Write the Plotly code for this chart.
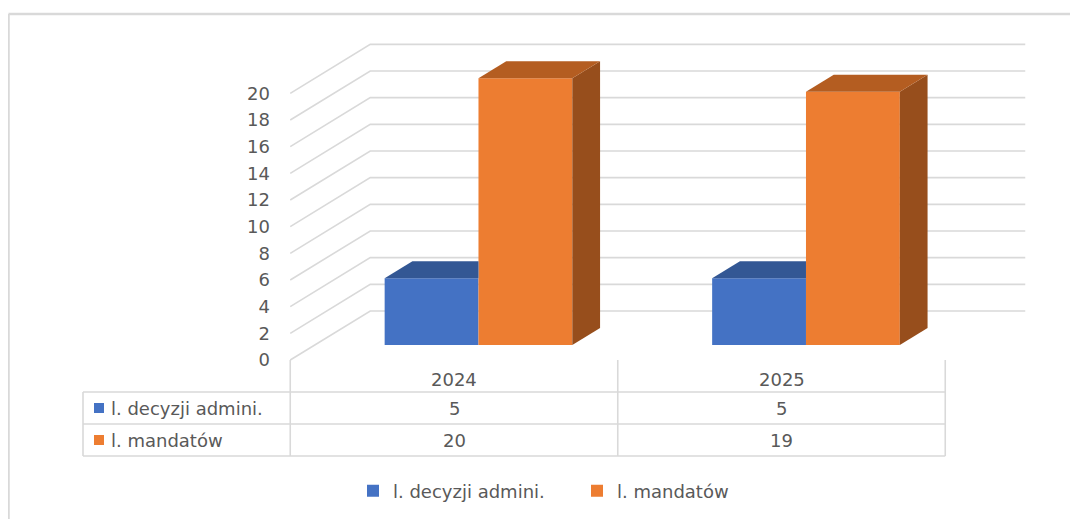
import plotly.graph_objects as go

# ---- data ----
categories = ["2024", "2025"]
series_names = ["l. decyzji admini.", "l. mandatów"]
decyzje = [5, 5]
mandaty = [20, 19]
y_ticks = list(range(0, 21, 2))

# ---- styling / projection constants ----
FONT = dict(family="DejaVu Sans", size=18, color="#595959")
GRID = "#D9D9D9"
BLUE, BLUE_TOP = "#4472C4", "#335794"
ORANGE, ORANGE_TOP, ORANGE_SIDE = "#ED7D31", "#B45D21", "#974E1C"

OFF = 8                          # page body margin
W, H = 1078 - OFF, 519 - OFF
PX_X0, PX_PER_CAT = 454.0 - OFF, 327.5     # pixel of category 0 / pixels per category
PX_Y0, PX_PER_UNIT = 360.0 - OFF, 13.333   # pixel of value 0 (front plane) / pixels per unit
X_RANGE = [(0 - PX_X0) / PX_PER_CAT, (W - PX_X0) / PX_PER_CAT]
Y_RANGE = [(PX_Y0 - H) / PX_PER_UNIT, (PX_Y0 - 0) / PX_PER_UNIT]

DEPTH_DX = 80 / PX_PER_CAT     # x shift for full depth
DEPTH_DY = 49 / PX_PER_UNIT    # y shift for full depth
BAR_D0, BAR_DEPTH = 0.306, 0.347
BW = 0.2865
SX, SY = BAR_D0 * DEPTH_DX, BAR_D0 * DEPTH_DY
DDX, DDY = BAR_DEPTH * DEPTH_DX, BAR_DEPTH * DEPTH_DY
X_LEFT, X_RIGHT = -0.5, len(categories) - 0.5

idx = list(range(len(categories)))

fig = go.Figure()

def poly(xs, ys, color):
    fig.add_trace(go.Scatter(x=xs + [xs[0]], y=ys + [ys[0]], fill="toself",
                             fillcolor=color, mode="lines", line=dict(width=0, color=color),
                             showlegend=False, hoverinfo="skip"))

# front faces (bars)
fig.add_trace(go.Bar(x=[i + SX for i in idx], y=decyzje, base=SY, width=BW, offset=-BW,
                     marker=dict(color=BLUE, line=dict(width=0)), name=series_names[0]))
fig.add_trace(go.Bar(x=[i + SX for i in idx], y=mandaty, base=SY, width=BW, offset=0,
                     marker=dict(color=ORANGE, line=dict(width=0)), name=series_names[1]))

# 3D faces
for i, vb, vo in zip(idx, decyzje, mandaty):
    xl, xm, xr = i + SX - BW, i + SX, i + SX + BW
    tb, to = SY + vb, SY + vo
    poly([xl, xm, xm, xl + DDX], [tb, tb, tb + DDY, tb + DDY], BLUE_TOP)
    poly([xr, xr, xr + DDX, xr + DDX], [SY, to, to + DDY, SY + DDY], ORANGE_SIDE)
    poly([xm, xr, xr + DDX, xm + DDX], [to, to, to + DDY, to + DDY], ORANGE_TOP)

shapes = []
for t in y_ticks:
    shapes.append(dict(type="path", xref="x", yref="y", layer="below",
                       path=f"M{X_LEFT},{t} L{X_LEFT + DEPTH_DX},{t + DEPTH_DY} L{X_RIGHT + DEPTH_DX},{t + DEPTH_DY}",
                       line=dict(color=GRID, width=1.6)))

# data table
ROW_H = 32 / PX_PER_UNIT
TBL_LEFT = (83 - OFF - PX_X0) / PX_PER_CAT
rows_v = [0, -ROW_H, -2 * ROW_H, -3 * ROW_H]
for xv in [X_LEFT + k for k in range(len(categories) + 1)]:
    shapes.append(dict(type="line", xref="x", yref="y", x0=xv, x1=xv, y0=rows_v[0], y1=rows_v[3],
                       line=dict(color=GRID, width=1.6)))
shapes.append(dict(type="line", xref="x", yref="y", x0=TBL_LEFT, x1=TBL_LEFT, y0=rows_v[1], y1=rows_v[3],
                   line=dict(color=GRID, width=1.6)))
for yv in rows_v[1:]:
    shapes.append(dict(type="line", xref="x", yref="y", x0=TBL_LEFT, x1=X_RIGHT, y0=yv, y1=yv,
                       line=dict(color=GRID, width=1.6)))

annotations = []
for i, c in zip(idx, categories):
    annotations.append(dict(x=i, y=rows_v[0] - ROW_H * 0.62, text=c, showarrow=False,
                            xref="x", yref="y", font=FONT))
for r, (name, vals, col) in enumerate(zip(series_names, [decyzje, mandaty], [BLUE, ORANGE])):
    yc = rows_v[1 + r] - ROW_H / 2
    for i, v in zip(idx, vals):
        annotations.append(dict(x=i, y=yc, text=str(v), showarrow=False, xref="x", yref="y", font=FONT))
    kx0 = TBL_LEFT + 11 / PX_PER_CAT
    shapes.append(dict(type="rect", xref="x", yref="y", x0=kx0, x1=kx0 + 10 / PX_PER_CAT,
                       y0=yc - 5 / PX_PER_UNIT, y1=yc + 5 / PX_PER_UNIT,
                       fillcolor=col, line=dict(width=0)))
    annotations.append(dict(x=kx0 + 15 / PX_PER_CAT, y=yc, text=name, showarrow=False, xanchor="left",
                            xref="x", yref="y", font=FONT))

# chart border (top and left)
BT = 1 - (14 - OFF) / H
shapes.append(dict(type="line", xref="paper", yref="paper", x0=0.5 / W, x1=1, y0=BT, y1=BT,
                   line=dict(color=GRID, width=2.5)))
shapes.append(dict(type="line", xref="paper", yref="paper", x0=0.5 / W, x1=0.5 / W, y0=0, y1=BT,
                   line=dict(color=GRID, width=2.5)))

fig.update_layout(
    width=W, height=H, autosize=False,
    margin=dict(l=0, r=0, t=0, b=0),
    paper_bgcolor="white", plot_bgcolor="white",
    barmode="overlay",
    font=FONT,
    xaxis=dict(range=X_RANGE, visible=False, fixedrange=True),
    yaxis=dict(range=Y_RANGE, tickvals=y_ticks, showgrid=False, zeroline=False, showline=False,
               anchor="free", position=(290 - OFF) / W, ticks="", ticklabelstandoff=20, tickfont=FONT,
               fixedrange=True),
    legend=dict(orientation="h", x=(353 - OFF) / W, xanchor="left", y=1 - (491 - OFF) / H, yanchor="middle",
                font=FONT, bgcolor="rgba(0,0,0,0)", traceorder="normal",
                entrywidth=179, entrywidthmode="pixels"),
    shapes=shapes, annotations=annotations,
)

fig.write_html("out.html")
